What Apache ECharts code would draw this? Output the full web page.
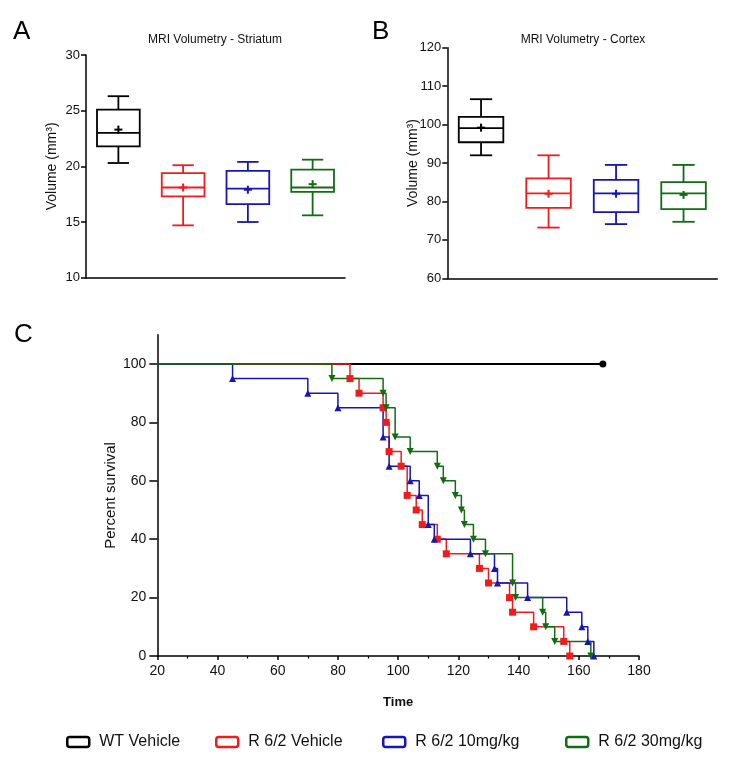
<!DOCTYPE html>
<html><head><meta charset="utf-8">
<script src="https://cdn.jsdelivr.net/npm/echarts@6/dist/echarts.min.js"></script>
<style>html,body{margin:0;padding:0;background:#fff}#c{width:737px;height:765px}</style>
</head><body><div id="c"></div>
<script>
// ---------- DATA ----------
const groups = ['WT Vehicle', 'R 6/2 Vehicle', 'R 6/2 10mg/kg', 'R 6/2 30mg/kg'];

// MRI Volumetry - Striatum (mm^3): whisker min, Q1, median, Q3, whisker max, mean
const striatumMin    = [20.3, 14.7, 15.0, 15.6];
const striatumQ1     = [21.8, 17.3, 16.6, 17.7];
const striatumMedian = [23.0, 18.1, 18.0, 18.1];
const striatumQ3     = [25.1, 19.4, 19.6, 19.7];
const striatumMax    = [26.3, 20.1, 20.4, 20.6];
const striatumMean   = [23.3, 18.1, 17.9, 18.4];

// MRI Volumetry - Cortex (mm^3)
const cortexMin    = [92.0, 73.2, 74.1, 74.7];
const cortexQ1     = [95.4, 78.3, 77.2, 78.0];
const cortexMedian = [99.1, 82.1, 82.1, 82.1];
const cortexQ3     = [102.0, 86.0, 85.6, 85.0];
const cortexMax    = [106.6, 92.0, 89.5, 89.5];
const cortexMean   = [99.2, 82.0, 82.0, 81.7];

// Survival (time, percent survival) after each event
const wtTime   = [0, 168];
const wtSurv   = [100, 100];
const vehTime  = [0, 84, 87, 95, 96, 97, 101, 103, 106, 108, 113, 116, 127, 130, 137, 138, 145, 155, 157];
const vehSurv  = [100, 95, 90, 85, 80, 70, 65, 55, 50, 45, 40, 35, 30, 25, 20, 15, 10, 5, 0];
const lowTime  = [0, 45, 70, 80, 95, 97, 104, 107, 110, 112, 124, 132, 133, 143, 156, 161, 163, 165];
const lowSurv  = [100, 95, 90, 85, 75, 65, 60, 55, 45, 40, 35, 30, 25, 20, 15, 10, 5, 0];
const highTime = [0, 78, 95, 96, 99, 104, 113, 115, 119, 121, 122, 125, 129, 138, 139, 148, 149, 152, 164];
const highSurv = [100, 95, 90, 85, 75, 70, 65, 60, 55, 50, 45, 40, 35, 25, 20, 15, 10, 5, 0];

const survivalYTicks = [0, 20, 40, 60, 80, 100];

// ---------- STYLE ----------
const FONT = "'Liberation Sans', Arial, Helvetica, sans-serif";
const colors = ['#000000', '#f01c1c', '#1616b4', '#136b13'];
const TXT = '#111';

function boxRows(mn, q1, md, q3, mx, mean) {
  return mn.map((v, i) => [i, mn[i], q1[i], md[i], q3[i], mx[i], mean[i]]);
}

function renderBox(params, api) {
  const idx = api.value(0);
  const c = colors[idx];
  const band = api.size([1, 0])[0];
  const bw = band * 0.66, cw = bw / 2;
  const pMin = api.coord([idx, api.value(1)]);
  const pQ1 = api.coord([idx, api.value(2)]);
  const pMed = api.coord([idx, api.value(3)]);
  const pQ3 = api.coord([idx, api.value(4)]);
  const pMax = api.coord([idx, api.value(5)]);
  const pMean = api.coord([idx, api.value(6)]);
  const x = pMed[0];
  const st = { stroke: c, fill: 'none', lineWidth: 1.8 };
  const L = (x1, y1, x2, y2, w) => ({ type: 'line', shape: { x1, y1, x2, y2 }, style: Object.assign({}, st, w ? { lineWidth: w } : {}) });
  const pm = 4;
  return {
    type: 'group',
    children: [
      { type: 'rect', shape: { x: x - bw / 2, y: pQ3[1], width: bw, height: pQ1[1] - pQ3[1] }, style: st },
      L(x - bw / 2, pMed[1], x + bw / 2, pMed[1]),
      L(x, pQ3[1], x, pMax[1]),
      L(x - cw / 2, pMax[1], x + cw / 2, pMax[1]),
      L(x, pQ1[1], x, pMin[1]),
      L(x - cw / 2, pMin[1], x + cw / 2, pMin[1]),
      L(x - pm, pMean[1], x + pm, pMean[1], 2),
      L(x, pMean[1] - pm, x, pMean[1] + pm, 2)
    ]
  };
}

function survData(times, surv) {
  return times.map((t, i) => {
    const item = { value: [t, surv[i]] };
    if (i === 0) item.symbol = 'none';
    return item;
  });
}

const axisLineStyle = { lineStyle: { color: '#000', width: 1.5 } };
const letterStyle = { fontSize: 26, fontWeight: 'normal', color: '#000', fontFamily: FONT };
const panelTitleStyle = { fontSize: 12, fontWeight: 'normal', color: TXT, fontFamily: FONT };

const option = {
  animation: false,
  backgroundColor: '#fff',
  textStyle: { fontFamily: FONT },
  title: [
    { text: 'A', left: 8, top: 14, textStyle: letterStyle },
    { text: 'B', left: 367, top: 14, textStyle: letterStyle },
    { text: 'C', left: 9, top: 317, textStyle: letterStyle },
    { text: 'MRI Volumetry - Striatum', left: 210, top: 29, textAlign: 'center', textStyle: panelTitleStyle },
    { text: 'MRI Volumetry - Cortex', left: 578, top: 29, textAlign: 'center', textStyle: panelTitleStyle }
  ],
  legend: groups.map((g, i) => ({
    left: [61, 210, 377, 560][i],
    top: 729,
    itemWidth: 22,
    itemHeight: 10,
    selectedMode: false,
    textStyle: { fontSize: 16, color: TXT, fontFamily: FONT, padding: [0, 0, 0, 5] },
    data: [{ name: g, icon: 'roundRect', itemStyle: { color: '#fff', borderColor: colors[i], borderWidth: 2.5 } }]
  })),
  grid: [
    { left: 86, right: 392, top: 55, bottom: 487.3 },
    { left: 447.3, right: 19.7, top: 47.7, bottom: 486.7 },
    { left: 157.3, right: 98, top: 334.8, bottom: 109 }
  ],
  xAxis: [
    { type: 'category', gridIndex: 0, data: groups, boundaryGap: true, axisLine: axisLineStyle, axisTick: { show: false }, axisLabel: { show: false }, splitLine: { show: false } },
    { type: 'category', gridIndex: 1, data: groups, boundaryGap: true, axisLine: axisLineStyle, axisTick: { show: false }, axisLabel: { show: false }, splitLine: { show: false } },
    { type: 'value', gridIndex: 2, min: 20, max: 180, interval: 20,
      name: 'Time', nameLocation: 'middle', nameGap: 40,
      nameTextStyle: { fontSize: 13, fontWeight: 'bold', color: TXT, fontFamily: FONT },
      axisLine: axisLineStyle,
      axisTick: { show: true, length: 4, lineStyle: { color: '#000', width: 1.5 } },
      minorTick: { show: true, splitNumber: 2, length: 2.5, lineStyle: { color: '#000', width: 1.2 } },
      axisLabel: { fontSize: 14, color: TXT, margin: 8, fontFamily: FONT },
      splitLine: { show: false } }
  ],
  yAxis: [
    { type: 'value', gridIndex: 0, min: 10, max: 30, interval: 5,
      name: 'Volume (mm³)', nameLocation: 'middle', nameGap: 27, nameMoveOverlap: false,
      nameTextStyle: { fontSize: 14, color: TXT, fontFamily: FONT },
      axisLine: { show: true, lineStyle: { color: '#000', width: 1.5 } },
      axisTick: { show: true, length: 5, lineStyle: { color: '#000', width: 1.5 } },
      axisLabel: { fontSize: 13, color: TXT, margin: 6, fontFamily: FONT },
      splitLine: { show: false } },
    { type: 'value', gridIndex: 1, min: 60, max: 120, interval: 10,
      name: 'Volume (mm³)', nameLocation: 'middle', nameGap: 27, nameMoveOverlap: false,
      nameTextStyle: { fontSize: 14, color: TXT, fontFamily: FONT },
      axisLine: { show: true, lineStyle: { color: '#000', width: 1.5 } },
      axisTick: { show: true, length: 5, lineStyle: { color: '#000', width: 1.5 } },
      axisLabel: { fontSize: 13, color: TXT, margin: 6, fontFamily: FONT },
      splitLine: { show: false } },
    { type: 'value', gridIndex: 2, min: 0, max: 110,
      name: 'Percent survival', nameLocation: 'middle', nameGap: 39, nameMoveOverlap: false,
      nameTextStyle: { fontSize: 15, color: TXT, fontFamily: FONT },
      axisLine: { show: true, lineStyle: { color: '#000', width: 1.5 } },
      axisTick: { show: true, length: 8, customValues: survivalYTicks, lineStyle: { color: '#000', width: 1.5 } },
      axisLabel: { fontSize: 14, color: TXT, margin: 11, customValues: survivalYTicks, fontFamily: FONT },
      splitLine: { show: false } }
  ],
  series: [
    { type: 'custom', xAxisIndex: 0, yAxisIndex: 0, renderItem: renderBox,
      encode: { x: 0, y: [1, 2, 3, 4, 5, 6] },
      data: boxRows(striatumMin, striatumQ1, striatumMedian, striatumQ3, striatumMax, striatumMean) },
    { type: 'custom', xAxisIndex: 1, yAxisIndex: 1, renderItem: renderBox,
      encode: { x: 0, y: [1, 2, 3, 4, 5, 6] },
      data: boxRows(cortexMin, cortexQ1, cortexMedian, cortexQ3, cortexMax, cortexMean) },
    { name: groups[0], type: 'line', step: 'end', xAxisIndex: 2, yAxisIndex: 2, clip: true,
      symbol: 'circle', symbolSize: 7, showAllSymbol: true,
      lineStyle: { color: colors[0], width: 2 }, itemStyle: { color: colors[0] },
      data: survData(wtTime, wtSurv) },
    { name: groups[1], type: 'line', step: 'end', xAxisIndex: 2, yAxisIndex: 2, clip: true,
      symbol: 'rect', symbolSize: 7, showAllSymbol: true,
      lineStyle: { color: colors[1], width: 1.5 }, itemStyle: { color: colors[1] },
      data: survData(vehTime, vehSurv) },
    { name: groups[2], type: 'line', step: 'end', xAxisIndex: 2, yAxisIndex: 2, clip: true,
      symbol: 'triangle', symbolSize: 7, showAllSymbol: true,
      lineStyle: { color: colors[2], width: 1.5 }, itemStyle: { color: colors[2] },
      data: survData(lowTime, lowSurv) },
    { name: groups[3], type: 'line', step: 'end', xAxisIndex: 2, yAxisIndex: 2, clip: true,
      symbol: 'triangle', symbolRotate: 180, symbolSize: 7, showAllSymbol: true,
      lineStyle: { color: colors[3], width: 1.5 }, itemStyle: { color: colors[3] },
      data: survData(highTime, highSurv) }
  ]
};

const chart = echarts.init(document.getElementById('c'), null, { renderer: 'canvas' });
chart.setOption(option);
</script>
</body></html>
